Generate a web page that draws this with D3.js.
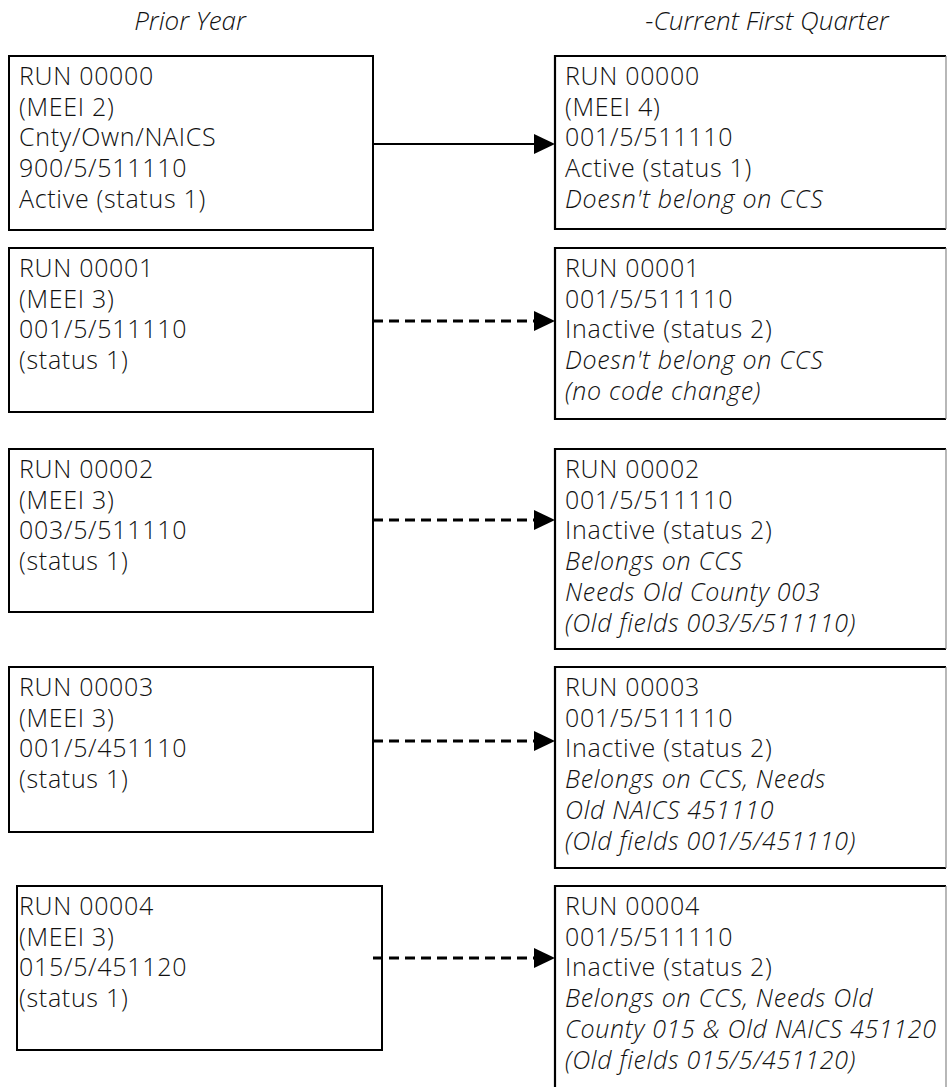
<!DOCTYPE html>
<html>
<head>
<meta charset="utf-8">
<script src="https://cdn.jsdelivr.net/npm/d3@7"></script>
<style>
  html, body { margin: 0; padding: 0; background: #fff; overflow: hidden; }
  svg { display: block; }
  text { font-family: "Open Sans", "Segoe UI", sans-serif; font-weight: 350; fill: #111; }
</style>
</head>
<body>
<svg id="chart" width="947" height="1087"></svg>
<script>
// ---------- data ----------
const columnTitles = ["Prior Year", "-Current First Quarter"];

const runIds = ["RUN 00000", "RUN 00001", "RUN 00002", "RUN 00003", "RUN 00004"];

const priorLines = [
  ["(MEEI 2)", "Cnty/Own/NAICS", "900/5/511110", "Active (status 1)"],
  ["(MEEI 3)", "001/5/511110", "(status 1)"],
  ["(MEEI 3)", "003/5/511110", "(status 1)"],
  ["(MEEI 3)", "001/5/451110", "(status 1)"],
  ["(MEEI 3)", "015/5/451120", "(status 1)"]
];

const currentLines = [
  ["(MEEI 4)", "001/5/511110", "Active (status 1)"],
  ["001/5/511110", "Inactive (status 2)"],
  ["001/5/511110", "Inactive (status 2)"],
  ["001/5/511110", "Inactive (status 2)"],
  ["001/5/511110", "Inactive (status 2)"]
];

const currentNotes = [
  ["Doesn't belong on CCS"],
  ["Doesn't belong on CCS", "(no code change)"],
  ["Belongs on CCS", "Needs Old County 003", "(Old fields 003/5/511110)"],
  ["Belongs on CCS, Needs", "Old NAICS 451110", "(Old fields 001/5/451110)"],
  ["Belongs on CCS, Needs Old", "County 015 & Old NAICS 451120", "(Old fields 015/5/451120)"]
];

const currentStatus = [1, 2, 2, 2, 2];

// ---------- layout ----------
const W = 947, H = 1087;
const rowTop = [56, 248, 449, 667, 886];
const leftBox = [
  {x0: 9, x1: 373, h: 174},
  {x0: 9, x1: 373, h: 164},
  {x0: 9, x1: 373, h: 163},
  {x0: 9, x1: 373, h: 165},
  {x0: 17, x1: 382, h: 164}
];
const rightX0 = 555, rightX1 = 946;
const rightH = [173, 171, 200, 201, 230];
const arrowOffset = [88, 73, 71, 74, 72];
const lineGap = 30.7, firstBaseline = 29;
const fontSize = 25;
const tracking = 0.7;

const svg = d3.select("#chart");

// column titles
const titleX = d3.scaleOrdinal().domain(columnTitles).range([190, 767]);
svg.selectAll("text.title").data(columnTitles).join("text")
  .attr("class", "title")
  .attr("x", d => titleX(d))
  .attr("y", 30)
  .attr("text-anchor", "middle")
  .attr("font-size", 26)
  .attr("font-style", "italic")
  .text(d => d);

const rows = runIds.map((id, i) => ({
  i,
  left: [id].concat(priorLines[i]),
  right: [id].concat(currentLines[i]).map(t => ({t, it: false}))
    .concat(currentNotes[i].map(t => ({t, it: true}))),
  dashed: currentStatus[i] !== 1
}));

const g = svg.selectAll("g.row").data(rows).join("g").attr("class", "row");

// left boxes
g.append("rect")
  .attr("x", d => leftBox[d.i].x0)
  .attr("y", d => rowTop[d.i])
  .attr("width", d => leftBox[d.i].x1 - leftBox[d.i].x0)
  .attr("height", d => leftBox[d.i].h)
  .attr("fill", "none").attr("stroke", "#000").attr("stroke-width", 2);

// right boxes (top, left, bottom black; right edge grey where the image is cropped)
g.append("path")
  .attr("d", d => {
    const y0 = rowTop[d.i], y1 = rowTop[d.i] + rightH[d.i];
    return `M${rightX1},${y0}H${rightX0}V${y1}H${rightX1}`;
  })
  .attr("fill", "none").attr("stroke", "#000").attr("stroke-width", 2.2);
g.append("line")
  .attr("x1", rightX1).attr("x2", rightX1)
  .attr("y1", d => rowTop[d.i])
  .attr("y2", d => rowTop[d.i] + rightH[d.i])
  .attr("stroke", "#888").attr("stroke-width", 1.2);

// texts
g.each(function(d) {
  const sel = d3.select(this);
  sel.selectAll("text.l").data(d.left).join("text")
    .attr("class", "l")
    .attr("x", 19)
    .attr("y", (t, k) => rowTop[d.i] + firstBaseline + k * lineGap)
    .attr("font-size", fontSize)
    .attr("letter-spacing", tracking)
    .text(t => t);
  sel.selectAll("text.r").data(d.right).join("text")
    .attr("class", "r")
    .attr("x", rightX0 + 10)
    .attr("y", (t, k) => rowTop[d.i] + firstBaseline + k * lineGap)
    .attr("font-size", fontSize)
    .attr("letter-spacing", tracking)
    .attr("font-style", t => t.it ? "italic" : "normal")
    .text(t => t.t);
});

// arrows
g.append("line")
  .attr("x1", 373)
  .attr("x2", rightX0 - 20)
  .attr("y1", d => rowTop[d.i] + arrowOffset[d.i])
  .attr("y2", d => rowTop[d.i] + arrowOffset[d.i])
  .attr("stroke", "#000")
  .attr("stroke-width", d => d.dashed ? 2.8 : 2.2)
  .attr("stroke-dasharray", d => d.dashed ? "10,6" : null);

g.append("path")
  .attr("d", d => {
    const y = rowTop[d.i] + arrowOffset[d.i];
    return `M${rightX0 - 21},${y - 10}L${rightX0},${y}L${rightX0 - 21},${y + 10}Z`;
  })
  .attr("fill", "#000");
</script>
</body>
</html>
